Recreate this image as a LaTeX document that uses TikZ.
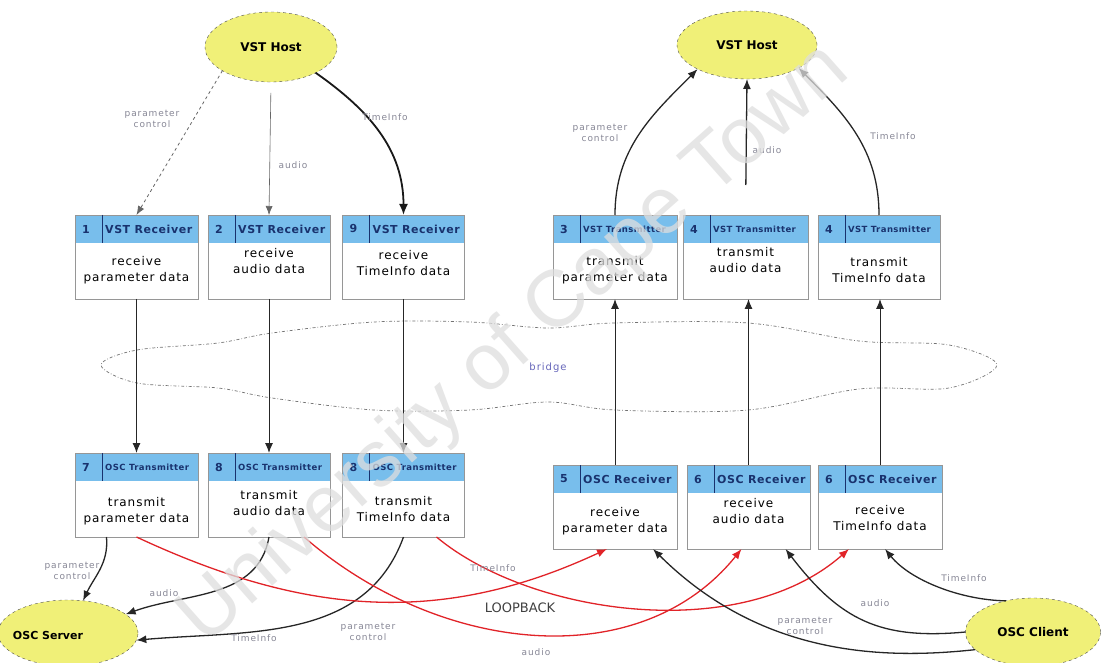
\documentclass[tikz,border=0pt]{standalone}
\usepackage{fontspec}
\setmainfont{DejaVu Sans}
\newfontfamily\bodyfont[LetterSpace=8]{DejaVu Sans}
\newfontfamily\lblfont[LetterSpace=10]{DejaVu Sans}
\newfontfamily\hdrfont[LetterSpace=5]{DejaVu Sans}
\newfontfamily\markfont{Liberation Sans}
\usetikzlibrary{arrows.meta,shapes.geometric}

\definecolor{hostyellow}{RGB}{240,240,120}
\definecolor{hdrblue}{RGB}{120,190,236}
\definecolor{hdrink}{RGB}{25,50,110}
\definecolor{boxgray}{RGB}{150,150,150}
\definecolor{lblgray}{RGB}{135,135,150}
\definecolor{loopred}{RGB}{225,35,40}
\definecolor{markgray}{RGB}{222,222,222}

\tikzset{
  host/.style={ellipse, draw=black!70, dashed, fill=hostyellow, inner sep=0pt, outer sep=0pt,
    font=\bfseries\fontsize{12}{14}\selectfont},
  boxbody/.style={rectangle, draw=boxgray, fill=white, line width=0.7pt, inner sep=0pt,
    outer sep=0pt, minimum height=84pt},
  hdrfill/.style={fill=hdrblue},
  boxedge/.style={draw=boxgray, line width=0.7pt},
  hdrrule/.style={draw=hdrink, line width=0.8pt},
  hdrnum/.style={text=hdrink, font=\hdrfont\bfseries\fontsize{11}{12}\selectfont, inner sep=0pt},
  hdrtitle/.style={anchor=west, text=hdrink, font=\hdrfont\bfseries\fontsize{11}{12}\selectfont, inner sep=0pt},
  bodytext/.style={align=center, font=\bodyfont\fontsize{12}{16}\selectfont, inner sep=0pt},
  lbl/.style={align=center, text=lblgray, font=\lblfont\fontsize{9}{11}\selectfont, inner sep=0pt},
  conn/.style={draw=black!85, line width=1.3pt, -{Latex[length=10pt,width=8pt]}},
  vconn/.style={draw=black!85, line width=1pt, -{Latex[length=10pt,width=8pt]}},
  thickconn/.style={draw=black!90, line width=1.8pt, -{Latex[length=11pt,width=9pt]}},
  thinconn/.style={draw=black!60, line width=0.6pt, -{Latex[length=9pt,width=7pt]}},
  dashconn/.style={draw=black!60, line width=0.8pt, dashed, -{Latex[length=9pt,width=7pt]}},
  loopconn/.style={draw=loopred, line width=1.3pt, -{Latex[length=10pt,width=8pt]}},
  cloud/.style={draw=black!55, line width=0.7pt, dash dot},
}

% #1 name, #2 centre x, #3 top y, #4 width, #5 body text offset,
% #6 number, #7 title, #8 body text
\newcommand\procbox[8]{%
  \node[boxbody, minimum width=#4pt] (#1) at (#2,{#3+42}) {};
  \fill[hdrfill] (#1.north west) rectangle ([yshift=-28pt]#1.north east);
  \draw[boxedge] (#1.north west) rectangle (#1.south east);
  \draw[hdrrule] ([xshift=27pt]#1.north west) -- ([xshift=27pt,yshift=-28pt]#1.north west);
  \node[hdrnum] (#1-n) at ([xshift=11pt,yshift=-14pt]#1.north west) {#6};
  \node[hdrtitle] (#1-t) at ([xshift=30pt,yshift=-14pt]#1.north west) {#7};
  \node[bodytext] (#1-b) at ([yshift=-#5pt]#1.north) {#8};
}
\newcommand\txttl{\fontsize{8.5}{10}\selectfont VST Transmitter}
\newcommand\osctl{\fontsize{8.5}{10}\selectfont OSC Transmitter}

\begin{document}
\begin{tikzpicture}[x=1pt,y=-1pt]
\useasboundingbox (0,0) rectangle (1104,663);
\clip (0,0) rectangle (1104,663);
\fill[white] (0,0) rectangle (1104,663);

% bridge cloud
\draw[cloud] plot[smooth cycle, tension=0.55] coordinates {
  (101,365) (137,350) (218,343) (272,333) (374,322) (470,322) (548,328) (614,323)
  (748,323) (859,341) (949,345) (997,365) (949,388) (859,389) (748,410) (615,410)
  (548,402) (470,410) (374,410) (272,398) (218,388) (137,383)};
\node[lbl, text=black!45!blue!60, font=\lblfont\fontsize{10}{12}\selectfont] (bridge) at (548,368) {bridge};

% hosts, server and client
\node[host, minimum width=132pt, minimum height=70pt] (hostL) at (271,47) {VST Host};
\node[host, minimum width=140pt, minimum height=68pt] (hostR) at (747,45) {VST Host};
\node[host, minimum width=140pt, minimum height=66pt] (oscS) at (68,633) {};
\node[font=\bfseries\fontsize{11}{13}\selectfont, inner sep=0pt] (oscS-l) at (48,635) {OSC Server};
\node[host, minimum width=135pt, minimum height=68pt] (oscC) at (1033,632) {OSC Client};

% VST receivers
\procbox{vstRxPar}{136.5}{215}{123}{55}{1}{VST Receiver}{receive\\parameter data}
\procbox{vstRxAud}{269}{215}{122}{46}{2}{VST Receiver}{receive\\audio data}
\procbox{vstRxTim}{403.5}{215}{122}{48}{9}{VST Receiver}{receive\\TimeInfo data}
% VST transmitters
\procbox{vstTxPar}{615}{215}{124}{55}{3}{\txttl}{transmit\\parameter data}
\procbox{vstTxAud}{745.5}{215}{125}{45}{4}{\txttl}{transmit\\audio data}
\procbox{vstTxTim}{879}{215}{122}{55}{4}{\txttl}{transmit\\TimeInfo data}
% OSC transmitters
\procbox{oscTxPar}{136.5}{453}{123}{58}{7}{\osctl}{transmit\\parameter data}
\procbox{oscTxAud}{269}{453}{122}{50}{8}{\osctl}{transmit\\audio data}
\procbox{oscTxTim}{403.5}{453}{122}{56}{8}{\osctl}{transmit\\TimeInfo data}
% OSC receivers
\procbox{oscRxPar}{615}{465}{124}{56}{5}{OSC Receiver}{receive\\parameter data}
\procbox{oscRxAud}{748.5}{465}{123}{46}{6}{OSC Receiver}{receive\\audio data}
\procbox{oscRxTim}{880}{465}{124}{53}{6}{OSC Receiver}{receive\\TimeInfo data}

% host to receivers
\draw[dashconn] (hostL.206) -- (vstRxPar.north);
\draw[thinconn, shorten <=11pt] (hostL.south) -- (vstRxAud.north);
\draw[thickconn] (hostL.330) to[out=-35, in=90] (vstRxTim.north);
\node[lbl] (lPcL) at (152,119) {parameter\\control};
\node[lbl] (lAuL) at (293,165) {audio};
\node[lbl] (lTiL) at (385,117) {TimeInfo};

% transmitters to host
\draw[conn] (vstTxPar.north) to[out=90, in=225] (hostR.206);
\draw[conn, shorten <=30pt] (vstTxAud.north) -- (hostR.south);
\draw[conn] (vstTxTim.north) to[out=90, in=-45] (hostR.336);
\node[lbl] (lPcR) at (600,133) {parameter\\control};
\node[lbl] (lAuR) at (767,150) {audio};
\node[lbl] (lTiR) at (893,136) {TimeInfo};

% across the bridge
\draw[vconn] (vstRxPar) -- (oscTxPar);
\draw[vconn] (vstRxAud) -- (oscTxAud);
\draw[vconn] (vstRxTim) -- (oscTxTim);
\draw[vconn] (oscRxPar.north) -- (vstTxPar.south);
\draw[vconn] (oscRxAud.north) -- (oscRxAud.north |- vstTxAud.south);
\draw[vconn] (oscRxTim.north) -- (oscRxTim.north |- vstTxTim.south);

% OSC transmitters to server
\draw[conn] ([xshift=-30pt]oscTxPar.south) to[out=-85, in=65] (oscS.65);
\draw[conn] (oscTxAud.south) to[out=-100, in=20] (oscS.18);
\draw[conn] (oscTxTim.south) to[out=-110, in=5] (oscS.354);
\node[lbl] (lPcS) at (72,571) {parameter\\control};
\node[lbl] (lAuS) at (164,593) {audio};
\node[lbl] (lTiS) at (254,638) {TimeInfo};

% loopback
\draw[loopconn] (oscTxPar.south) to[out=-25, in=205] ([xshift=-8pt]oscRxPar.south);
\draw[loopconn] ([xshift=35pt]oscTxAud.south) .. controls (440,655) and (640,675) .. ([xshift=-7pt]oscRxAud.south);
\draw[loopconn] ([xshift=33pt]oscTxTim.south) .. controls (530,615) and (740,645) .. ([xshift=-31pt]oscRxTim.south);
\node[lbl] (lPcX) at (368,632) {parameter\\control};
\node[lbl] (lAuX) at (536,652) {audio};
\node[lbl] (lTiX) at (493,568) {TimeInfo};
\node[text=black!75, font=\fontsize{13}{15}\selectfont, inner sep=0pt] (loopback) at (520,608) {LOOPBACK};

% client to OSC receivers
\draw[conn] (oscC.197) .. controls (880,660) and (760,655) .. ([xshift=38pt]oscRxPar.south);
\draw[conn] (oscC.180) .. controls (880,640) and (840,620) .. ([xshift=37pt]oscRxAud.south);
\draw[conn] (oscC.131) .. controls (960,600) and (910,580) .. ([xshift=5pt]oscRxTim.south);
\node[lbl] (lPcC) at (805,626) {parameter\\control};
\node[lbl] (lAuC) at (875,603) {audio};
\node[lbl] (lTiC) at (964,578) {TimeInfo};

% repository mark across the sheet
\node[rotate=41.5, text=markgray, opacity=0.75, inner sep=0pt,
  font=\markfont\fontsize{80}{80}\selectfont] (mark) at (515,345) {University of Cape Town};
\end{tikzpicture}
\end{document}
